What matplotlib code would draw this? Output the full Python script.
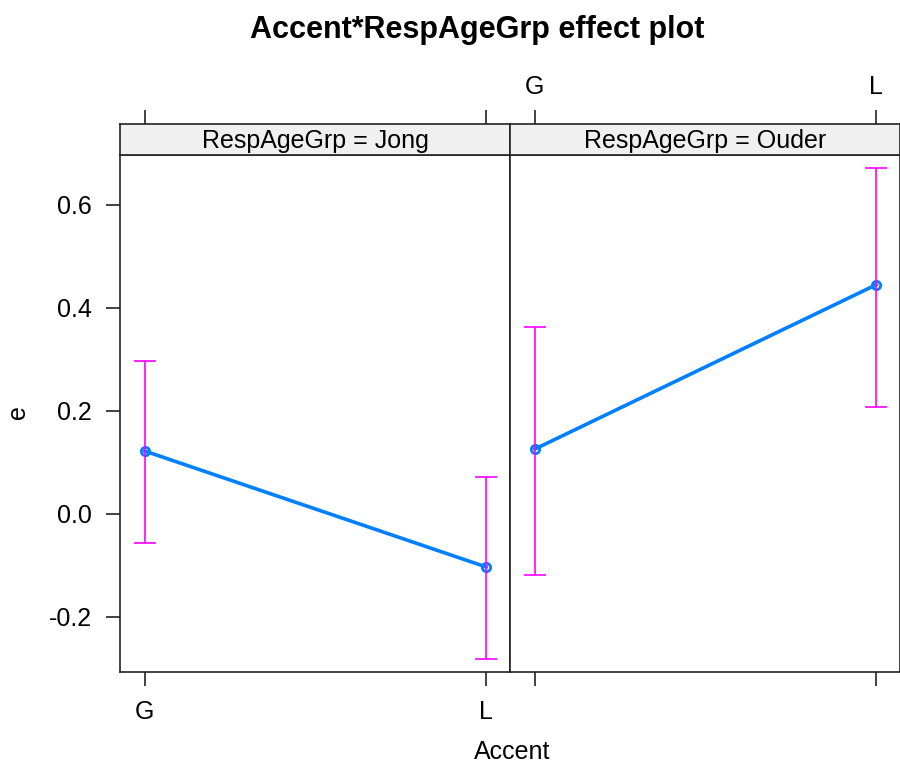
import matplotlib
matplotlib.use("Agg")
import matplotlib.pyplot as plt

plt.rcParams['font.family'] = ['Liberation Sans', 'DejaVu Sans']

# data
accent = ["G", "L"]
groups = ["Jong", "Ouder"]
fit = {"Jong": [0.122, -0.103], "Ouder": [0.126, 0.445]}
lower = {"Jong": [-0.056, -0.282], "Ouder": [-0.118, 0.208]}
upper = {"Jong": [0.297, 0.072], "Ouder": [0.363, 0.672]}
yticks = [-0.2, 0.0, 0.2, 0.4, 0.6]

W, H = 900, 765
fig = plt.figure(figsize=(W / 100, H / 100), dpi=100)

frame_col = "#222222"
line_col = "#0080FF"
ci_col = "#FF00FF"

x = [1, 2]
left0, pw = 120 / W, 390 / W
bot, top = 1 - 672 / H, 1 - 155 / H
strip_h = 31 / H

for i, g in enumerate(groups):
    l = left0 + i * pw
    ax = fig.add_axes([l, bot, pw, top - bot])
    ax.set_xlim(0.927, 2.07)
    ax.set_ylim(-0.307, 0.697)

    ax.plot(x, fit[g], color=line_col, lw=2.6, zorder=2)
    ax.plot(x, fit[g], "o", mfc="none", mec=line_col, mew=2, ms=6, zorder=3)
    err_lo = [f - lo for f, lo in zip(fit[g], lower[g])]
    err_hi = [hi - f for f, hi in zip(fit[g], upper[g])]
    ax.errorbar(x, fit[g], yerr=[err_lo, err_hi], fmt="none", ecolor=ci_col,
                elinewidth=1.2, capsize=8, capthick=1.2, zorder=4)

    for s in ax.spines.values():
        s.set_color(frame_col)
        s.set_linewidth(1.2)

    ax.set_xticks(x)
    ax.set_xticklabels(accent)
    ax.set_yticks(yticks)
    ax.set_yticklabels(["%.1f" % v for v in yticks])
    ax.tick_params(axis="both", direction="out", length=10, width=1.2,
                   color=frame_col, labelsize=18, pad=10)
    if i == 1:
        ax.tick_params(axis="x", labelbottom=False)
        ax.tick_params(axis="y", left=False, labelleft=False)

    # strip on top
    sx = fig.add_axes([l, top, pw, strip_h], sharex=ax)
    sx.set_facecolor("#F0F0F0")
    sx.set_yticks([])
    sx.tick_params(axis="x", direction="out", length=10, width=1.2,
                   color=frame_col, labelsize=18, pad=8, bottom=False,
                   labelbottom=False, top=True, labeltop=(i == 1))
    for s in sx.spines.values():
        s.set_color(frame_col)
        s.set_linewidth(1.2)
    sx.text(0.5, 0.45, "RespAgeGrp = %s" % g, transform=sx.transAxes,
            ha="center", va="center", fontsize=18)

fig.text(477 / W, 1 - 30 / H, "Accent*RespAgeGrp effect plot", ha="center",
         va="center", fontsize=22, fontweight="bold")
fig.text(18 / W, 1 - 412 / H, "e", rotation=90, ha="center", va="center",
         fontsize=18)
fig.text(512 / W, 1 - 752 / H, "Accent", ha="center", va="center", fontsize=18)

fig.savefig("out.png", dpi=100)
